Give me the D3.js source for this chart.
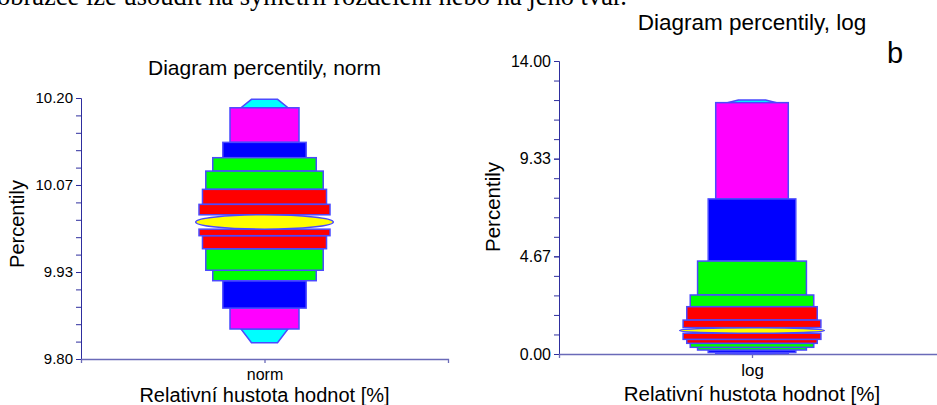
<!DOCTYPE html>
<html>
<head>
<meta charset="utf-8">
<script src="https://cdn.jsdelivr.net/npm/d3@7"></script>
<style>
  body { margin: 0; background: #fff; }
  text { font-family: "Liberation Sans", Arial, sans-serif; }
</style>
</head>
<body>
<svg id="canvas" width="937" height="405"></svg>
<script>
// band colours, outermost (0.5 %) to innermost
let bandColors = ['#00ffff', '#ff00ff', '#0000ff', '#00ff00', '#00ff00', '#ff0000', '#ff0000']
// half widths of the bands (fraction of half the plot width)
let bandWidths = [0.128, 0.188, 0.227, 0.282, 0.32, 0.338, 0.357]
let capWidth = 0.071
let medianWidth = 0.375

// percentiles (outer -> inner)
let normUpper = [10.198, 10.185, 10.132, 10.1085, 10.088, 10.060, 10.037, 10.021]
let normLower = [9.825, 9.846, 9.878, 9.920, 9.936, 9.969, 9.989, 9.999]
let logUpper = [12.14, 12.01, 7.41, 4.44, 2.82, 2.26, 1.62, 1.26]
let logLower = [0.01, 0.03, 0.07, 0.19, 0.32, 0.51, 0.70, 0.99]

let normTicks = [9.80, 9.9333, 10.0667, 10.20]
let logTicks = [0, 4.6667, 9.3333, 14]

let canvas = d3.select('#canvas')

canvas.append('text')
  .attr('x', -3).attr('y', 5)
  .style('font-family', '"Liberation Serif", "Times New Roman", serif')
  .style('font-size', '26.5px')
  .text('obrazce lze usoudit na symetrii rozdělení nebo na jeho tvar.')

let drawPanel = (cfg) => {
  let g = canvas.append('g')

  let y = d3.scaleLinear().domain(cfg.yDomain).range(cfg.yRange)
  let x = d3.scalePoint().domain([cfg.name]).range(cfg.xRange).padding(0.5)
  let cx = x(cfg.name)
  let half = (cfg.xRange[1] - cfg.xRange[0]) / 2
  let w = d3.scaleLinear().domain([0, 1]).range([0, half])

  // minor ticks
  let step = (cfg.yDomain[1] - cfg.yDomain[0]) / 15
  let minor = d3.range(16).map(i => cfg.yDomain[0] + i * step)
  g.append('g')
    .attr('transform', 'translate(' + cfg.xRange[0] + ',0)')
    .call(d3.axisLeft(y).tickValues(minor).tickFormat('').tickSize(5).tickSizeOuter(0))
    .call(a => a.selectAll('line,path').attr('stroke', '#2e2e9e'))

  g.append('g')
    .attr('transform', 'translate(' + cfg.xRange[0] + ',0)')
    .call(d3.axisLeft(y).tickValues(cfg.ticks).tickFormat(d3.format('.2f')).tickSize(5).tickSizeOuter(0))
    .call(a => {
      a.selectAll('line,path').attr('stroke', '#2e2e9e')
      a.selectAll('text').attr('fill', '#000').style('font-size', cfg.tickFont + 'px')
        .style('font-family', '"Liberation Sans", Arial, sans-serif').attr('x', -8)
    })

  g.append('g')
    .attr('transform', 'translate(0,' + cfg.yRange[0] + ')')
    .call(d3.axisBottom(x).tickSize(4).tickSizeOuter(4).tickPadding(6))
    .call(a => {
      a.selectAll('line,path').attr('stroke', '#6a6ab8').attr('stroke-width', 1.3)
      a.selectAll('text').attr('fill', '#000').style('font-size', cfg.tickFont + 1 + 'px')
        .style('font-family', '"Liberation Sans", Arial, sans-serif')
    })

  // bands, upper and lower halves
  let bands = g.append('g')
  bandColors.forEach((col, i) => {
    let bw = w(bandWidths[i])
    ;[[cfg.upper[i], cfg.upper[i + 1]], [cfg.lower[i], cfg.lower[i + 1]]].forEach(([outer, inner]) => {
      if (i === 0) {
        let cw = w(capWidth)
        let pts = [[cx - cw, y(outer)], [cx + cw, y(outer)], [cx + bw, y(inner)], [cx - bw, y(inner)]]
        bands.append('polygon')
          .attr('points', pts.map(p => p.join(',')).join(' '))
          .attr('fill', col).attr('stroke', '#4a4aff').attr('stroke-width', 1.5)
      } else {
        let y0 = Math.min(y(outer), y(inner))
        let y1 = Math.max(y(outer), y(inner))
        bands.append('rect')
          .attr('x', cx - bw).attr('y', y0)
          .attr('width', 2 * bw).attr('height', y1 - y0)
          .attr('fill', col).attr('stroke', '#4a4aff').attr('stroke-width', 1.5)
      }
    })
  })

  let top = y(cfg.upper[7])
  let bot = y(cfg.lower[7])
  bands.append('ellipse')
    .attr('cx', cx).attr('cy', (top + bot) / 2)
    .attr('rx', w(medianWidth)).attr('ry', (bot - top) / 2)
    .attr('fill', '#ffff00').attr('stroke', '#4a4aff').attr('stroke-width', 1.5)

  g.append('text')
    .attr('x', cx).attr('y', cfg.titleY)
    .attr('text-anchor', 'middle')
    .style('font-size', cfg.titleFont + 'px')
    .text(cfg.title)

  g.append('text')
    .attr('x', cx).attr('y', cfg.xLabelY)
    .attr('text-anchor', 'middle')
    .style('font-size', cfg.labelFont + 'px')
    .text('Relativní hustota hodnot [%]')

  g.append('text')
    .attr('transform', 'translate(' + cfg.yLabelX + ',' + cfg.yLabelY + ') rotate(-90)')
    .attr('text-anchor', 'middle')
    .style('font-size', cfg.labelFont + 'px')
    .text('Percentily')
}

drawPanel({
  name: 'norm', title: 'Diagram percentily, norm',
  yDomain: [9.80, 10.20], yRange: [359, 98], xRange: [81, 448],
  ticks: normTicks, upper: normUpper, lower: normLower,
  tickFont: 15, titleFont: 21, labelFont: 20,
  titleY: 75, xLabelY: 402, yLabelX: 24, yLabelY: 224
})

drawPanel({
  name: 'log', title: 'Diagram percentily, log',
  yDomain: [0, 14], yRange: [354, 61], xRange: [559, 945],
  ticks: logTicks, upper: logUpper, lower: logLower,
  tickFont: 16, titleFont: 22.5, labelFont: 20.5,
  titleY: 30, xLabelY: 401, yLabelX: 500, yLabelY: 207
})

canvas.append('text')
  .attr('x', 887).attr('y', 63)
  .style('font-size', '29px')
  .text('b')
</script>
</body>
</html>
